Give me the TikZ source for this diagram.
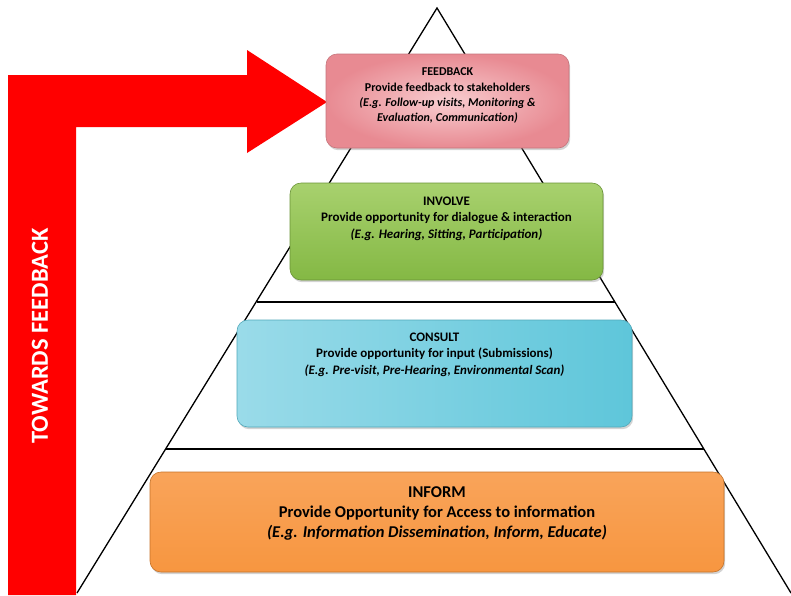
\documentclass[tikz,border=0pt]{standalone}
\usepackage{fontspec}
\setmainfont{Carlito}
\usetikzlibrary{positioning,shadows}

\definecolor{fbin}{HTML}{F8CDD0}
\definecolor{fbout}{HTML}{E88A92}
\definecolor{invtop}{HTML}{A8D16E}
\definecolor{invbot}{HTML}{84B844}
\definecolor{conleft}{HTML}{9ADBE9}
\definecolor{conmid}{HTML}{D2F1F6}
\definecolor{conright}{HTML}{5EC6DA}
\definecolor{inftop}{HTML}{F9A45A}
\definecolor{infmid}{HTML}{F68F32}
\definecolor{infbot}{HTML}{F79640}

\tikzset{
  levelbox/.style={rounded corners=11pt, draw=#1, line width=0.6pt,
    drop shadow={opacity=0.35, shadow xshift=1.2pt, shadow yshift=-2.2pt}},
  leveltext/.style={align=center, inner sep=0pt,
    font=\bfseries\fontsize{13}{16.3}\selectfont},
}

\begin{document}
\begin{tikzpicture}[x=1pt,y=-1pt]
\useasboundingbox (0,0) rectangle (791,595);
%draw the pyramid
\draw[line width=1.3pt] (77,593) -- (437,8) -- (791,593);
\draw[line width=2pt] (257,302) -- (615,302);
\draw[line width=2pt] (166,449) -- (704,449);
%draw the bent arrow
\fill[red] (8,75) -- (247,75) -- (247,50) -- (327,102) -- (247,153)
  -- (247,127) -- (76,127) -- (76,595) -- (8,595) -- cycle;
\node[rotate=90, text=white, font=\bfseries\fontsize{24.5}{30}\selectfont] (towards) at (40,336) {TOWARDS FEEDBACK};
%feedback level
\node[levelbox=fbout!85!black, inner color=fbin, outer color=fbout,
  minimum width=243pt, minimum height=94pt] (feedback) at (447.5,101) {};
\node[leveltext, font=\bfseries\fontsize{12}{15.3}\selectfont, below=14pt of feedback.north] (feedbacktxt)
  {FEEDBACK\\Provide feedback to stakeholders\\
   \itshape (E.g. Follow-up visits, Monitoring \&\\
   \itshape Evaluation, Communication)};
%involve level
\node[levelbox=invbot!80!black, top color=invtop, bottom color=invbot,
  minimum width=313pt, minimum height=97pt] (involve) at (446.5,231.5) {};
\node[leveltext, below=14pt of involve.north] (involvetxt)
  {INVOLVE\\Provide opportunity for dialogue \& interaction\\
   \itshape (E.g. Hearing, Sitting, Participation)};
%consult level
\node[levelbox=conright!85!black, left color=conleft, middle color=conmid, right color=conright,
  minimum width=395pt, minimum height=107pt] (consult) at (434.5,373.5) {};
\node[leveltext, below=13pt of consult.north] (consulttxt)
  {CONSULT\\Provide opportunity for input (Submissions)\\
   \itshape (E.g. Pre-visit, Pre-Hearing, Environmental Scan)};
%inform level
\node[levelbox=infmid!80!black, top color=inftop, middle color=infmid, bottom color=infbot,
  minimum width=574pt, minimum height=100pt] (inform) at (437,522) {};
\node[leveltext, font=\bfseries\fontsize{16.5}{20}\selectfont, below=15pt of inform.north] (informtxt)
  {INFORM\\Provide Opportunity for Access to information\\
   \itshape (E.g. Information Dissemination, Inform, Educate)};
\end{tikzpicture}
\end{document}
